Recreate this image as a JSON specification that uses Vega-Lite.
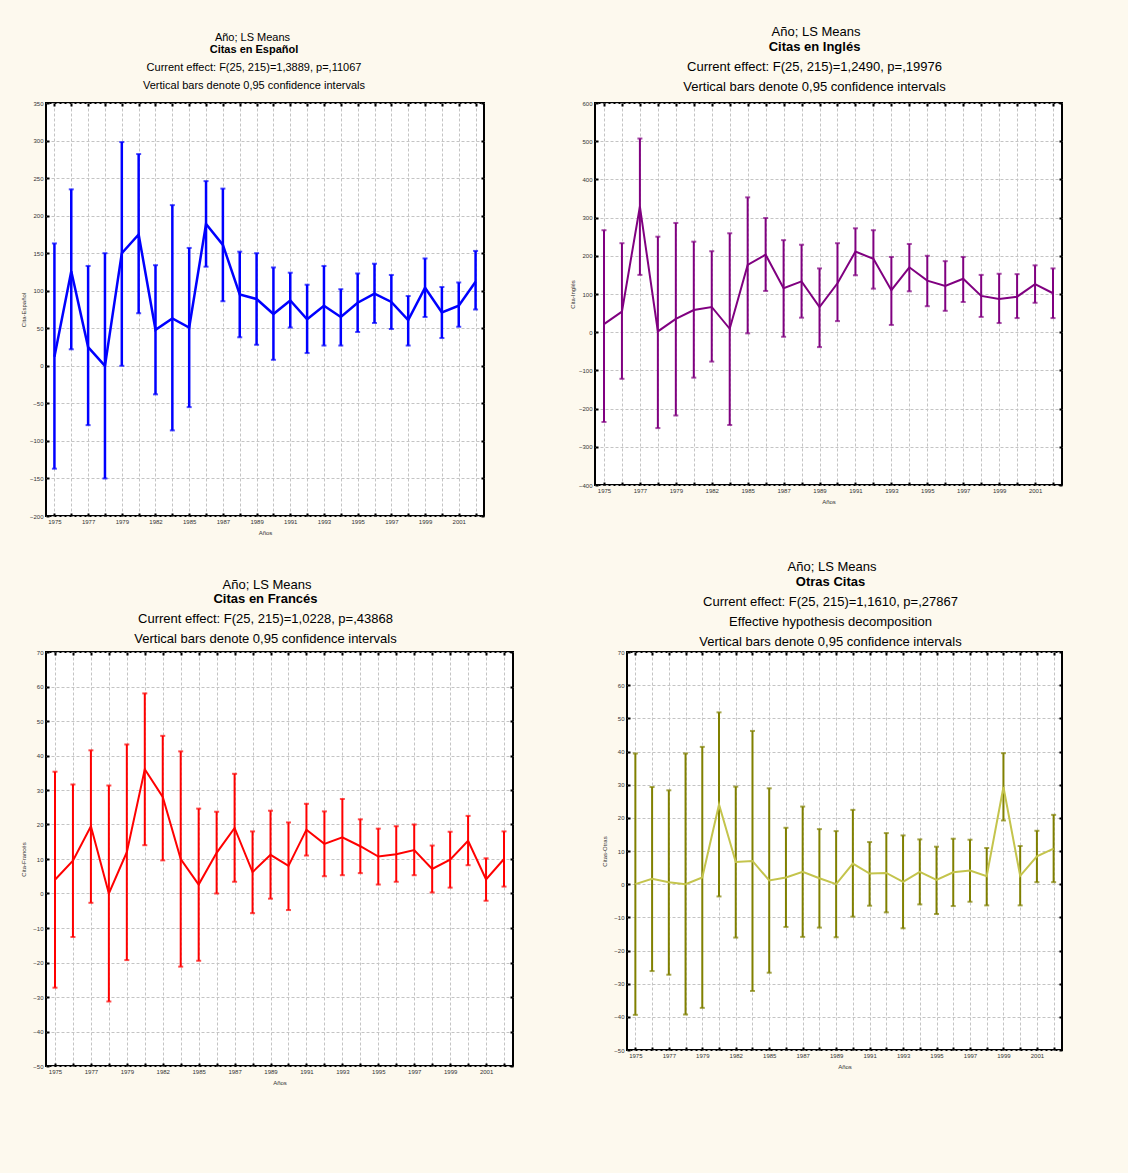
{
  "$schema": "https://vega.github.io/schema/vega-lite/v6.json",
  "background": "#fdf9ee",
  "padding": {"left": 19, "top": 26, "right": 66, "bottom": 91},
  "datasets": {
    "esp": [
      {"year": "1975", "m": 12, "lo": -137, "hi": 163},
      {"year": "1976", "m": 126, "lo": 22, "hi": 235},
      {"year": "1977", "m": 25, "lo": -79, "hi": 133},
      {"year": "1978", "m": 0, "lo": -150, "hi": 150},
      {"year": "1979", "m": 150, "lo": 0, "hi": 298},
      {"year": "1980", "m": 175, "lo": 70, "hi": 282},
      {"year": "1982", "m": 48, "lo": -38, "hi": 134},
      {"year": "1983", "m": 63, "lo": -86, "hi": 214},
      {"year": "1985", "m": 51, "lo": -55, "hi": 157},
      {"year": "1986", "m": 189, "lo": 132, "hi": 246},
      {"year": "1987", "m": 161, "lo": 86, "hi": 236},
      {"year": "1988", "m": 95, "lo": 38, "hi": 152},
      {"year": "1989", "m": 89, "lo": 28, "hi": 150},
      {"year": "1990", "m": 69, "lo": 8, "hi": 131},
      {"year": "1991", "m": 87, "lo": 51, "hi": 124},
      {"year": "1992", "m": 62, "lo": 17, "hi": 108},
      {"year": "1993", "m": 80, "lo": 27, "hi": 133},
      {"year": "1994", "m": 65, "lo": 27, "hi": 102},
      {"year": "1995", "m": 84, "lo": 45, "hi": 123},
      {"year": "1996", "m": 96, "lo": 57, "hi": 136},
      {"year": "1997", "m": 85, "lo": 49, "hi": 121},
      {"year": "1998", "m": 61, "lo": 27, "hi": 93},
      {"year": "1999", "m": 104, "lo": 65, "hi": 143},
      {"year": "2000", "m": 71, "lo": 37, "hi": 105},
      {"year": "2001", "m": 80, "lo": 52, "hi": 111},
      {"year": "2002", "m": 112, "lo": 75, "hi": 153}
    ],
    "ing": [
      {"year": "1975", "m": 21, "lo": -235, "hi": 267},
      {"year": "1976", "m": 54, "lo": -122, "hi": 233},
      {"year": "1977", "m": 329, "lo": 150, "hi": 507},
      {"year": "1978", "m": 2, "lo": -251, "hi": 250},
      {"year": "1979", "m": 35, "lo": -218, "hi": 286},
      {"year": "1980", "m": 58, "lo": -119, "hi": 237},
      {"year": "1982", "m": 66, "lo": -77, "hi": 212},
      {"year": "1983", "m": 9, "lo": -243, "hi": 259},
      {"year": "1985", "m": 176, "lo": -3, "hi": 353},
      {"year": "1986", "m": 203, "lo": 108, "hi": 299},
      {"year": "1987", "m": 115, "lo": -12, "hi": 241},
      {"year": "1988", "m": 133, "lo": 38, "hi": 229},
      {"year": "1989", "m": 66, "lo": -39, "hi": 167},
      {"year": "1990", "m": 128, "lo": 29, "hi": 233},
      {"year": "1991", "m": 211, "lo": 149, "hi": 272},
      {"year": "1992", "m": 192, "lo": 114, "hi": 267},
      {"year": "1993", "m": 110, "lo": 19, "hi": 197},
      {"year": "1994", "m": 170, "lo": 107, "hi": 231},
      {"year": "1995", "m": 135, "lo": 68, "hi": 200},
      {"year": "1996", "m": 121, "lo": 56, "hi": 186},
      {"year": "1997", "m": 140, "lo": 79, "hi": 197},
      {"year": "1998", "m": 95, "lo": 40, "hi": 150},
      {"year": "1999", "m": 87, "lo": 24, "hi": 153},
      {"year": "2000", "m": 93, "lo": 37, "hi": 152},
      {"year": "2001", "m": 126, "lo": 77, "hi": 175},
      {"year": "2002", "m": 102, "lo": 37, "hi": 167}
    ],
    "fra": [
      {"year": "1975", "m": 4, "lo": -27.3, "hi": 35.3},
      {"year": "1976", "m": 9.5, "lo": -12.6, "hi": 31.6},
      {"year": "1977", "m": 19.5, "lo": -2.7, "hi": 41.5},
      {"year": "1978", "m": 0, "lo": -31.3, "hi": 31.3},
      {"year": "1979", "m": 12, "lo": -19.3, "hi": 43.2},
      {"year": "1980", "m": 36, "lo": 14, "hi": 58},
      {"year": "1982", "m": 28, "lo": 9.6, "hi": 45.7},
      {"year": "1983", "m": 10, "lo": -21.2, "hi": 41.2},
      {"year": "1985", "m": 2.6, "lo": -19.5, "hi": 24.6},
      {"year": "1986", "m": 11.8, "lo": 0, "hi": 23.7},
      {"year": "1987", "m": 19, "lo": 3.4, "hi": 34.7},
      {"year": "1988", "m": 6.2, "lo": -5.7, "hi": 18},
      {"year": "1989", "m": 11.2, "lo": -1.5, "hi": 24},
      {"year": "1990", "m": 8, "lo": -4.8, "hi": 20.6},
      {"year": "1991", "m": 18.5, "lo": 11, "hi": 26},
      {"year": "1992", "m": 14.4, "lo": 5, "hi": 23.8},
      {"year": "1993", "m": 16.3, "lo": 5.3, "hi": 27.4},
      {"year": "1994", "m": 13.7, "lo": 5.9, "hi": 21.5},
      {"year": "1995", "m": 10.7, "lo": 2.6, "hi": 18.8},
      {"year": "1996", "m": 11.4, "lo": 3.4, "hi": 19.5},
      {"year": "1997", "m": 12.6, "lo": 5.3, "hi": 20},
      {"year": "1998", "m": 7.1, "lo": 0.3, "hi": 13.9},
      {"year": "1999", "m": 9.8, "lo": 1.7, "hi": 17.9},
      {"year": "2000", "m": 15.3, "lo": 8.2, "hi": 22.5},
      {"year": "2001", "m": 4.1, "lo": -2.1, "hi": 10.2},
      {"year": "2002", "m": 10, "lo": 2, "hi": 18}
    ],
    "otr": [
      {"year": "1975", "m": 0, "lo": -39.4, "hi": 39.4},
      {"year": "1976", "m": 1.6, "lo": -26.2, "hi": 29.3},
      {"year": "1977", "m": 0.6, "lo": -27.3, "hi": 28.3},
      {"year": "1978", "m": 0, "lo": -39.3, "hi": 39.4},
      {"year": "1979", "m": 2, "lo": -37.3, "hi": 41.4},
      {"year": "1980", "m": 24, "lo": -3.7, "hi": 51.8},
      {"year": "1982", "m": 6.7, "lo": -16.1, "hi": 29.4},
      {"year": "1983", "m": 7, "lo": -32.2, "hi": 46.2},
      {"year": "1985", "m": 1.1, "lo": -26.7, "hi": 28.9},
      {"year": "1986", "m": 2, "lo": -12.9, "hi": 17},
      {"year": "1987", "m": 3.7, "lo": -15.9, "hi": 23.4},
      {"year": "1988", "m": 1.8, "lo": -13.1, "hi": 16.6},
      {"year": "1989", "m": 0, "lo": -16, "hi": 16},
      {"year": "1990", "m": 6.2, "lo": -9.8, "hi": 22.4},
      {"year": "1991", "m": 3.2, "lo": -6.5, "hi": 12.7},
      {"year": "1992", "m": 3.4, "lo": -8.5, "hi": 15.4},
      {"year": "1993", "m": 0.7, "lo": -13.3, "hi": 14.7},
      {"year": "1994", "m": 3.7, "lo": -6.1, "hi": 13.5},
      {"year": "1995", "m": 1.3, "lo": -9, "hi": 11.3},
      {"year": "1996", "m": 3.6, "lo": -6.6, "hi": 13.7},
      {"year": "1997", "m": 4.1, "lo": -5.3, "hi": 13.4},
      {"year": "1998", "m": 2.4, "lo": -6.4, "hi": 10.9},
      {"year": "1999", "m": 29.3, "lo": 19.2, "hi": 39.5},
      {"year": "2000", "m": 2.5, "lo": -6.4, "hi": 11.5},
      {"year": "2001", "m": 8.4, "lo": 0.6, "hi": 16.1},
      {"year": "2002", "m": 10.7, "lo": 0.6, "hi": 20.9}
    ]
  },
  "config": {
    "font": "Liberation Sans",
    "view": {"stroke": "#000000", "strokeWidth": 2, "fill": "#ffffff"},
    "title": {"font": "Liberation Sans", "color": "#000000", "fontWeight": "normal", "subtitleFont": "Liberation Sans", "subtitleColor": "#000000"},
    "axis": {
      "labelFont": "Liberation Sans", "labelFontSize": 6, "labelColor": "#333333",
      "titleFont": "Liberation Sans", "titleFontSize": 6, "titleFontWeight": "normal", "titleColor": "#333333",
      "domain": false, "grid": true, "gridDash": [3, 2], "gridColor": "#c4c4c4", "gridWidth": 1,
      "tickColor": "#000000", "tickWidth": 2, "tickSize": -3, "labelOverlap": false, "labelSeparation": 0
    },
    "axisX": {"labelAngle": 0, "titlePadding": 5, "labelPadding": 5,
      "labelExpr": "indexof(['1975','1977','1979','1982','1985','1987','1989','1991','1993','1995','1997','1999','2001'], datum.label) >= 0 ? datum.label : ''"},
    "axisY": {"minExtent": 16, "maxExtent": 16, "titlePadding": 4, "labelPadding": 6, "labelOverlap": false}
  },
  "vconcat": [
    {
      "spacing": 82,
      "hconcat": [
        {
          "title": {"text": "Año; LS Means", "fontSize": 11, "anchor": "middle", "offset": 0},
          "vconcat": [
            {
              "width": 438, "height": 413,
              "title": {"text": "Citas en Español", "fontSize": 11, "fontWeight": "bold", "anchor": "middle", "dx": -11,
                "subtitle": ["Current effect: F(25, 215)=1,3889, p=,11067", "Vertical bars denote 0,95 confidence intervals"],
                "subtitleFontSize": 11, "subtitleLineHeight": 18, "subtitlePadding": 7, "offset": 9},
              "data": {"name": "esp"},
              "resolve": {"axis": {"x": "independent", "y": "independent"}},
              "encoding": {"x": {"field": "year", "type": "ordinal", "title": "Años", "scale": {"type": "point", "padding": 0.5}, "axis": {"labelOverlap": false}}},
              "layer": [
                {"mark": {"type": "rule", "color": "#0000ff", "strokeWidth": 2.5},
                  "encoding": {"y": {"field": "lo", "type": "quantitative", "title": "Cita-Español", "scale": {"domain": [-200, 350], "nice": false, "zero": false}, "axis": {"values": [-200, -150, -100, -50, 0, 50, 100, 150, 200, 250, 300, 350], "labelOverlap": false}}, "y2": {"field": "hi"}}},
                {"mark": {"type": "tick", "color": "#0000ff", "thickness": 2, "size": 5},
                  "encoding": {"x": {"field": "year", "type": "ordinal", "axis": null}, "y": {"field": "lo", "type": "quantitative", "axis": null}}},
                {"mark": {"type": "tick", "color": "#0000ff", "thickness": 2, "size": 5},
                  "encoding": {"x": {"field": "year", "type": "ordinal", "axis": null}, "y": {"field": "hi", "type": "quantitative", "axis": null}}},
                {"mark": {"type": "line", "color": "#0000ff", "strokeWidth": 2.5},
                  "encoding": {"x": {"field": "year", "type": "ordinal", "axis": {"orient": "top", "labels": false, "grid": false, "title": null, "minExtent": 0, "maxExtent": 0}},
                    "y": {"field": "m", "type": "quantitative", "axis": {"orient": "right", "labels": false, "grid": false, "title": null, "minExtent": 0, "maxExtent": 0, "values": [-200, -150, -100, -50, 0, 50, 100, 150, 200, 250, 300, 350]}}}}
              ]
            }
          ]
        },
        {
          "title": {"text": "Año; LS Means", "fontSize": 13, "anchor": "middle", "offset": 1},
          "vconcat": [
            {
              "width": 467, "height": 382,
              "title": {"text": "Citas en Inglés", "fontSize": 13, "fontWeight": "bold", "anchor": "middle", "dx": -14,
                "subtitle": ["Current effect: F(25, 215)=1,2490, p=,19976", "Vertical bars denote 0,95 confidence intervals"],
                "subtitleFontSize": 13, "subtitleLineHeight": 20, "subtitlePadding": 7, "offset": 6},
              "data": {"name": "ing"},
              "resolve": {"axis": {"x": "independent", "y": "independent"}},
              "encoding": {"x": {"field": "year", "type": "ordinal", "title": "Años", "scale": {"type": "point", "padding": 0.5}, "axis": {"labelOverlap": false}}},
              "layer": [
                {"mark": {"type": "rule", "color": "#800080", "strokeWidth": 2},
                  "encoding": {"y": {"field": "lo", "type": "quantitative", "title": "Cita-Inglés", "scale": {"domain": [-400, 600], "nice": false, "zero": false}, "axis": {"values": [-400, -300, -200, -100, 0, 100, 200, 300, 400, 500, 600], "labelOverlap": false}}, "y2": {"field": "hi"}}},
                {"mark": {"type": "tick", "color": "#800080", "thickness": 2, "size": 5},
                  "encoding": {"x": {"field": "year", "type": "ordinal", "axis": null}, "y": {"field": "lo", "type": "quantitative", "axis": null}}},
                {"mark": {"type": "tick", "color": "#800080", "thickness": 2, "size": 5},
                  "encoding": {"x": {"field": "year", "type": "ordinal", "axis": null}, "y": {"field": "hi", "type": "quantitative", "axis": null}}},
                {"mark": {"type": "line", "color": "#800080", "strokeWidth": 2},
                  "encoding": {"x": {"field": "year", "type": "ordinal", "axis": {"orient": "top", "labels": false, "grid": false, "title": null, "minExtent": 0, "maxExtent": 0}},
                    "y": {"field": "m", "type": "quantitative", "axis": {"orient": "right", "labels": false, "grid": false, "title": null, "minExtent": 0, "maxExtent": 0, "values": [-400, -300, -200, -100, 0, 100, 200, 300, 400, 500, 600]}}}}
              ]
            }
          ]
        }
      ]
    },
    {
      "spacing": 85,
      "hconcat": [
        {
          "title": {"text": "Año; LS Means", "fontSize": 13, "anchor": "middle", "offset": 0},
          "vconcat": [
            {
              "width": 467, "height": 414,
              "title": {"text": "Citas en Francés", "fontSize": 13, "fontWeight": "bold", "anchor": "middle", "dx": -14,
                "subtitle": ["Current effect: F(25, 215)=1,0228, p=,43868", "Vertical bars denote 0,95 confidence intervals"],
                "subtitleFontSize": 13, "subtitleLineHeight": 20, "subtitlePadding": 7, "offset": 3},
              "data": {"name": "fra"},
              "resolve": {"axis": {"x": "independent", "y": "independent"}},
              "encoding": {"x": {"field": "year", "type": "ordinal", "title": "Años", "scale": {"type": "point", "padding": 0.5}, "axis": {"labelOverlap": false}}},
              "layer": [
                {"mark": {"type": "rule", "color": "#ff0000", "strokeWidth": 2},
                  "encoding": {"y": {"field": "lo", "type": "quantitative", "title": "Cita-Francés", "scale": {"domain": [-50, 70], "nice": false, "zero": false}, "axis": {"values": [-50, -40, -30, -20, -10, 0, 10, 20, 30, 40, 50, 60, 70], "labelOverlap": false}}, "y2": {"field": "hi"}}},
                {"mark": {"type": "tick", "color": "#ff0000", "thickness": 2, "size": 5},
                  "encoding": {"x": {"field": "year", "type": "ordinal", "axis": null}, "y": {"field": "lo", "type": "quantitative", "axis": null}}},
                {"mark": {"type": "tick", "color": "#ff0000", "thickness": 2, "size": 5},
                  "encoding": {"x": {"field": "year", "type": "ordinal", "axis": null}, "y": {"field": "hi", "type": "quantitative", "axis": null}}},
                {"mark": {"type": "line", "color": "#ff0000", "strokeWidth": 2},
                  "encoding": {"x": {"field": "year", "type": "ordinal", "axis": {"orient": "top", "labels": false, "grid": false, "title": null, "minExtent": 0, "maxExtent": 0}},
                    "y": {"field": "m", "type": "quantitative", "axis": {"orient": "right", "labels": false, "grid": false, "title": null, "minExtent": 0, "maxExtent": 0, "values": [-50, -40, -30, -20, -10, 0, 10, 20, 30, 40, 50, 60, 70]}}}}
              ]
            }
          ]
        },
        {
          "title": {"text": "Año; LS Means", "fontSize": 13, "anchor": "middle", "offset": 1},
          "vconcat": [
            {
              "width": 435, "height": 398,
              "title": {"text": "Otras Citas", "fontSize": 13, "fontWeight": "bold", "anchor": "middle", "dx": -14,
                "subtitle": ["Current effect: F(25, 215)=1,1610, p=,27867", "Effective hypothesis decomposition", "Vertical bars denote 0,95 confidence intervals"],
                "subtitleFontSize": 13, "subtitleLineHeight": 20, "subtitlePadding": 7, "offset": 0},
              "data": {"name": "otr"},
              "resolve": {"axis": {"x": "independent", "y": "independent"}},
              "encoding": {"x": {"field": "year", "type": "ordinal", "title": "Años", "scale": {"type": "point", "padding": 0.5}, "axis": {"labelOverlap": false}}},
              "layer": [
                {"mark": {"type": "rule", "color": "#808000", "strokeWidth": 2},
                  "encoding": {"y": {"field": "lo", "type": "quantitative", "title": "Citas-Otras", "scale": {"domain": [-50, 70], "nice": false, "zero": false}, "axis": {"values": [-50, -40, -30, -20, -10, 0, 10, 20, 30, 40, 50, 60, 70], "labelOverlap": false}}, "y2": {"field": "hi"}}},
                {"mark": {"type": "tick", "color": "#808000", "thickness": 2, "size": 5},
                  "encoding": {"x": {"field": "year", "type": "ordinal", "axis": null}, "y": {"field": "lo", "type": "quantitative", "axis": null}}},
                {"mark": {"type": "tick", "color": "#808000", "thickness": 2, "size": 5},
                  "encoding": {"x": {"field": "year", "type": "ordinal", "axis": null}, "y": {"field": "hi", "type": "quantitative", "axis": null}}},
                {"mark": {"type": "line", "color": "#c4c44c", "strokeWidth": 2},
                  "encoding": {"x": {"field": "year", "type": "ordinal", "axis": {"orient": "top", "labels": false, "grid": false, "title": null, "minExtent": 0, "maxExtent": 0}},
                    "y": {"field": "m", "type": "quantitative", "axis": {"orient": "right", "labels": false, "grid": false, "title": null, "minExtent": 0, "maxExtent": 0, "values": [-50, -40, -30, -20, -10, 0, 10, 20, 30, 40, 50, 60, 70]}}}}
              ]
            }
          ]
        }
      ]
    }
  ],
  "spacing": 25
}
